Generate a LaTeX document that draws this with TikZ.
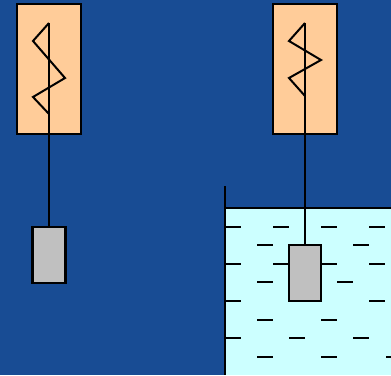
\documentclass[tikz,border=0pt]{standalone}
\definecolor{bg}{RGB}{24,76,148}
\definecolor{springbox}{RGB}{255,204,153}
\definecolor{water}{RGB}{204,255,255}
\definecolor{mass}{RGB}{192,192,192}
\tikzset{
  boxstyle/.style={draw=black, line width=2pt, fill=springbox},
  massstyle/.style={draw=black, line width=2.2pt, fill=mass},
  springline/.style={draw=black, line width=2pt, line join=miter},
  stringline/.style={draw=black, line width=1.8pt},
  dashline/.style={draw=black, line width=1.7pt},
}
\begin{document}
\begin{tikzpicture}[x=1pt,y=-1pt]
\useasboundingbox (0,0) rectangle (391,375);
\fill[bg] (0,0) rectangle (391,375);
% water
\fill[water] (225,208) rectangle (391,375);
\draw[black, line width=1.2pt] (225,208) -- (391,208);
\coordinate (wtop) at (225,186);
\coordinate (wbot) at (225,375);
\draw[black, line width=2.2pt] (wtop) -- (wbot);
% dashes
\foreach \y/\xs in {227/{225,273,321,369},
                    245/{257,353},
                    264/{225,273,321,369},
                    282/{257,337},
                    301/{225,369},
                    320/{257,321},
                    338/{225,289,353},
                    357/{257,321,386}} {
  \foreach \x in \xs { \draw[dashline] (\x,\y) -- ++(16,0); }
}
% left spring
\node[boxstyle, minimum width=64pt, minimum height=130pt, inner sep=0pt] (boxL) at (49,69) {};
\node[massstyle, minimum width=33pt, minimum height=56pt, inner sep=0pt] (massL) at (49,255) {};
\coordinate (sL) at (49,23);
\draw[stringline] (sL) -- (massL.north);
\draw[springline] (sL) -- (33,41) -- (65,78) -- (33,97) -- (49,114);
% right spring
\node[boxstyle, minimum width=64pt, minimum height=130pt, inner sep=0pt] (boxR) at (305,69) {};
\node[massstyle, minimum width=32pt, minimum height=56pt, inner sep=0pt] (massR) at (305,273) {};
\coordinate (sR) at (305,23);
\draw[stringline] (sR) -- (massR.north);
\draw[springline] (sR) -- (289,41) -- (321,60) -- (289,78) -- (305,96);
\end{tikzpicture}
\end{document}
